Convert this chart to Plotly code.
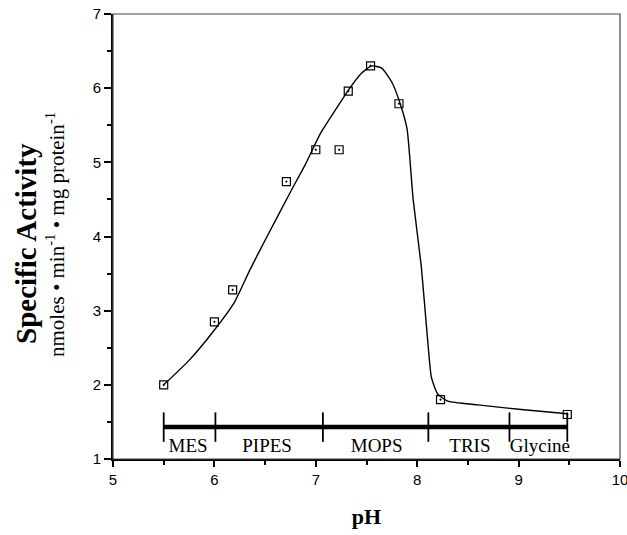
import plotly.graph_objects as go

# measured points (pH vs specific activity)
ph_pts = [5.5, 6.0, 6.18, 6.71, 7.0, 7.23, 7.32, 7.54, 7.82, 8.23, 9.48]
act_pts = [2.0, 2.85, 3.28, 4.74, 5.17, 5.17, 5.96, 6.30, 5.79, 1.80, 1.60]

# fitted curve
ph_fit = [5.5, 5.75, 6.0, 6.2, 6.35, 6.5, 6.75, 6.9, 7.05, 7.2, 7.32, 7.45, 7.55,
          7.65, 7.75, 7.83, 7.9, 7.96, 8.04, 8.1, 8.14, 8.2, 8.3, 8.6, 9.0, 9.48]
act_fit = [2.0, 2.33, 2.74, 3.12, 3.55, 3.95, 4.6, 4.98, 5.4, 5.72, 5.97, 6.2, 6.3,
           6.27, 6.08, 5.8, 5.45, 4.5, 3.6, 2.65, 2.1, 1.88, 1.78, 1.73, 1.67, 1.61]

# buffer ranges
buffer_bounds = [5.5, 6.01, 7.07, 8.11, 8.91, 9.48]
buffer_names = ["MES", "PIPES", "MOPS", "TRIS", "Glycine"]
buffer_label_x = [5.74, 6.52, 7.6, 8.52, 9.21]
bar_y = 1.43
label_y = 1.16

serif = "Liberation Serif"
sans = "Liberation Sans"

fig = go.Figure()

fig.add_trace(go.Scatter(x=ph_fit, y=act_fit, mode="lines",
                         line=dict(color="black", width=1.4, shape="spline", smoothing=0.5)))
fig.add_trace(go.Scatter(x=ph_pts, y=act_pts, mode="markers",
                         marker=dict(symbol="square-open-dot", size=8, color="black",
                                     line=dict(width=1.2, color="black"))))

# buffer bar
fig.add_trace(go.Scatter(x=[buffer_bounds[0], buffer_bounds[-1]], y=[bar_y, bar_y], mode="lines",
                         line=dict(color="black", width=4.5)))
fig.add_trace(go.Scatter(x=buffer_bounds, y=[bar_y] * len(buffer_bounds), mode="markers",
                         marker=dict(symbol="line-ns", size=21, line=dict(width=1.8, color="black"))))
fig.add_trace(go.Scatter(x=buffer_label_x, y=[label_y] * len(buffer_names), mode="text",
                         text=buffer_names,
                         textfont=dict(family=serif, size=19, color="black")))

fig.add_shape(type="rect", xref="paper", yref="paper", x0=0, y0=0, x1=1, y1=1,
              line=dict(color="#444", width=1.2))

fig.add_annotation(text="<b>Specific Activity</b>", xref="paper", yref="paper",
                   x=-0.172, y=0.485, xanchor="center", yanchor="middle",
                   textangle=-90, showarrow=False,
                   font=dict(family=serif, size=29, color="black"))
fig.add_annotation(text="nmoles • min<sup>-1</sup> • mg protein<sup>-1</sup>", xref="paper", yref="paper",
                   x=-0.113, y=0.505, xanchor="center", yanchor="middle",
                   textangle=-90, showarrow=False,
                   font=dict(family=serif, size=21, color="black"))

fig.update_layout(
    width=627, height=535,
    margin=dict(l=113, r=7, t=14, b=76),
    paper_bgcolor="white", plot_bgcolor="white",
    showlegend=False,
    xaxis=dict(range=[5, 10], dtick=1, showgrid=False, zeroline=False, automargin=False,
               ticklabeloverflow="allow",
               showline=True, linecolor="black", linewidth=2,
               ticks="outside", ticklen=6, tickwidth=1.5, tickcolor="black",
               minor=dict(dtick=0.5, ticks="outside", ticklen=4, tickcolor="black"),
               tickfont=dict(family=sans, size=15, color="black"),
               title=dict(text="<b>pH</b>", font=dict(family=serif, size=22, color="black"),
                          standoff=22)),
    yaxis=dict(range=[1, 7], dtick=1, showgrid=False, zeroline=False, automargin=False,
               ticklabeloverflow="allow",
               showline=True, linecolor="black", linewidth=2,
               ticks="outside", ticklen=7, tickwidth=1.5, tickcolor="black",
               minor=dict(dtick=0.5, ticks="outside", ticklen=4, tickcolor="black"),
               tickfont=dict(family=sans, size=15, color="black")),
)

# no page margin, so the 627x535 figure fits the window exactly
fig.write_html("out.html", config={"displayModeBar": False},
               post_script="document.body.style.margin='0';document.body.style.overflow='hidden';")
